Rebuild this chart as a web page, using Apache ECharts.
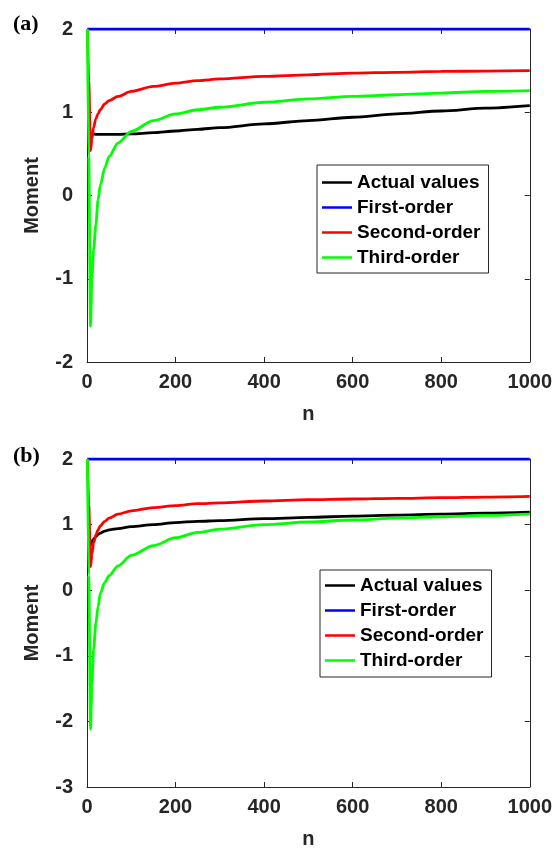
<!DOCTYPE html>
<html>
<head>
<meta charset="utf-8">
<script src="https://cdn.jsdelivr.net/npm/echarts@6/dist/echarts.min.js"></script>
<style>
  html, body { margin: 0; padding: 0; background: #fff; }
  #chart { width: 555px; height: 850px; }
</style>
</head>
<body>
<div id="chart"></div>
<script>
// sample points along n, shared by the series of each panel
const nValues = [1, 4, 8, 11, 15, 20, 25, 30, 40, 50, 70, 100, 150, 200, 250, 300, 400, 500, 600, 700, 800, 900, 1000];
const seriesNames = ["Actual values", "First-order", "Second-order", "Third-order"];

// panel (a)
const actualA = [null, null, null, 0.745, 0.74, 0.735, 0.735, 0.735, 0.735, 0.735, 0.735, 0.74, 0.755, 0.775, 0.795, 0.815, 0.86, 0.9, 0.94, 0.98, 1.015, 1.05, 1.08];
const firstA = [2, 2, 2, 2, 2, 2, 2, 2, 2, 2, 2, 2, 2, 2, 2, 2, 2, 2, 2, 2, 2, 2, 2];
const secondA = [2, 1.37, 0.54, 0.68, 0.82, 0.92, 0.98, 1.03, 1.1, 1.14, 1.19, 1.25, 1.31, 1.35, 1.38, 1.4, 1.43, 1.45, 1.47, 1.48, 1.49, 1.495, 1.5];
const thirdA = [2, 0.47, -1.57, -1.0, -0.65, -0.35, -0.05, 0.12, 0.33, 0.47, 0.63, 0.77, 0.9, 0.98, 1.03, 1.06, 1.12, 1.16, 1.19, 1.21, 1.23, 1.25, 1.26];

// panel (b)
const actualB = [null, null, 0.68, 0.74, 0.78, 0.82, 0.85, 0.87, 0.9, 0.92, 0.94, 0.97, 1.0, 1.03, 1.05, 1.06, 1.09, 1.11, 1.13, 1.145, 1.16, 1.175, 1.19];
const firstB = [2, 2, 2, 2, 2, 2, 2, 2, 2, 2, 2, 2, 2, 2, 2, 2, 2, 2, 2, 2, 2, 2, 2];
const secondB = [2, 1.3, 0.36, 0.55, 0.72, 0.84, 0.92, 0.98, 1.05, 1.1, 1.16, 1.21, 1.26, 1.29, 1.32, 1.33, 1.36, 1.38, 1.39, 1.4, 1.41, 1.42, 1.43];
const thirdB = [2, 0.23, -2.12, -1.45, -0.9, -0.5, -0.25, -0.05, 0.12, 0.22, 0.37, 0.53, 0.68, 0.8, 0.88, 0.93, 1.0, 1.04, 1.07, 1.1, 1.12, 1.14, 1.16];

const colors = ["#000000", "#0000ff", "#ff0000", "#00ff00"];
const axisColor = "#262626";
const font = "'Liberation Sans', Arial, sans-serif";

const chart = echarts.init(document.getElementById("chart"));

function pairs(vals) {
  return nValues.map((n, i) => [n, vals[i]]);
}

function mainX(grid, show) {
  return {
    type: "value", gridIndex: grid, min: 0, max: 1000, interval: 200,
    name: show ? "n" : "", nameLocation: "middle", nameGap: 42,
    nameTextStyle: { fontFamily: font, fontWeight: "bold", fontSize: 20, color: axisColor },
    axisLine: { show: true, onZero: false, lineStyle: { color: axisColor, width: 1 } },
    axisTick: { show: true, inside: true, length: 5, lineStyle: { color: axisColor } },
    axisLabel: { show: show, margin: 10, fontFamily: font, fontWeight: "bold", fontSize: 20, color: axisColor, formatter: (v) => String(v) },
    splitLine: { show: false },
    position: show ? "bottom" : "top",
  };
}

function mainY(grid, min, show) {
  return {
    type: "value", gridIndex: grid, min: min, max: 2, interval: 1,
    name: show ? "Moment" : "", nameLocation: "middle", nameGap: 45,
    nameTextStyle: { fontFamily: font, fontWeight: "bold", fontSize: 20, color: axisColor },
    axisLine: { show: true, onZero: false, lineStyle: { color: axisColor, width: 1 } },
    axisTick: { show: true, inside: true, length: 5, lineStyle: { color: axisColor } },
    axisLabel: { show: show, margin: 14, fontFamily: font, fontWeight: "bold", fontSize: 20, color: axisColor },
    splitLine: { show: false },
    position: show ? "left" : "right",
  };
}

function lines(xi, yi, data) {
  return data.map((vals, k) => ({
    name: seriesNames[k],
    type: "line",
    xAxisIndex: xi,
    yAxisIndex: yi,
    data: pairs(vals),
    showSymbol: false,
    symbol: "none",
    smooth: 0.3,
    smoothMonotone: "x",
    connectNulls: false,
    lineStyle: { color: colors[k], width: 2.8 },
    itemStyle: { color: colors[k] },
    animation: false,
  }));
}

function legend(left, top, padding) {
  return {
    orient: "vertical", left: left, top: top,
    data: seriesNames.map((s) => ({ name: s, icon: "rect" })),
    itemWidth: 30, itemHeight: 2.5, itemGap: 6,
    padding: padding,
    borderColor: axisColor, borderWidth: 1,
    backgroundColor: "#fff",
    selectedMode: false,
    textStyle: { fontFamily: font, fontWeight: "bold", fontSize: 19, color: "#000", lineHeight: 19 },
  };
}

chart.setOption({
  animation: false,
  title: [
    { text: "(a)", left: 8, top: 8, textStyle: { fontFamily: "'Liberation Serif', 'Times New Roman', serif", fontWeight: "bold", fontSize: 22, color: "#000" } },
    { text: "(b)", left: 8, top: 440, textStyle: { fontFamily: "'Liberation Serif', 'Times New Roman', serif", fontWeight: "bold", fontSize: 22, color: "#000" } },
  ],
  legend: [legend(317, 165, [8, 8, 6, 5]), legend(320, 570, [6, 8, 7, 5])],
  grid: [
    { left: 87, right: 25, top: 29, height: 333 },
    { left: 87, right: 25, top: 459, height: 344 },
  ],
  xAxis: [mainX(0, true), mainX(0, false), mainX(1, true), mainX(1, false)],
  yAxis: [mainY(0, -2, true), mainY(0, -2, false), mainY(1, -3, true), mainY(1, -3, false)],
  series: [
    ...lines(0, 0, [actualA, firstA, secondA, thirdA]),
    ...lines(2, 2, [actualB, firstB, secondB, thirdB]),
  ],
});
</script>
</body>
</html>
